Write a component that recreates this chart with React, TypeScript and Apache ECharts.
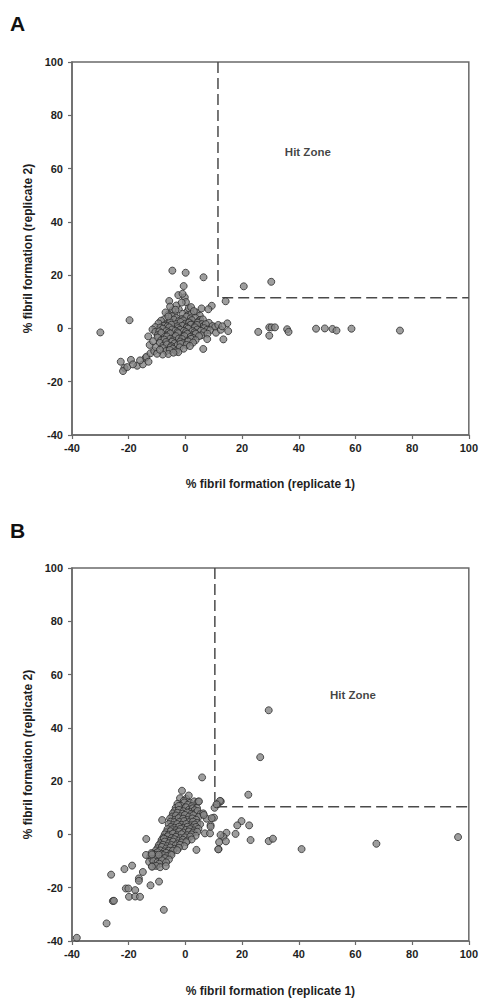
import React, { useEffect, useRef } from "react";
import * as echarts from "echarts";

// ---------- DATA ----------
const axisTicks = [-40, -20, 0, 20, 40, 60, 80, 100];
const xTitle = "% fibril formation (replicate 1)";
const yTitle = "% fibril formation (replicate 2)";
const hitZoneLabel = "Hit Zone";

// Panel A: threshold (both replicates)
const thresholdA = 11.5;
const hitZonePosA = [43.2, 66.2];

const pointsA_outliers = [
  [-30.0, -1.5], [-19.7, 3.1], [-4.6, 21.7], [0.1, 20.9], [6.4, 19.2], [-0.6, 15.9],
  [20.6, 15.8], [30.3, 17.5], [14.2, 10.2], [6.3, -7.7],
  [25.7, -1.3], [29.6, 0.4], [30.4, 0.4], [31.6, 0.4], [29.6, -2.7], [35.9, -0.3],
  [36.4, -1.3], [46.1, -0.1], [49.2, 0.0], [51.9, -0.2], [53.3, -0.8], [58.6, -0.1], [75.7, -0.8],
  [14.8, 1.9], [15.1, -1.0], [13.4, -4.1], [7.7, -4.0], [11.6, 1.3], [10.8, -1.6],
  [9.3, 8.5], [8.1, 7.2], [12.5, -0.5], [13.0, 0.8],
];
const pointsA_tail = [
  [-22.8, -12.5], [-19.2, -11.8], [-21.5, -14.8], [-22.0, -16.0], [-20.5, -14.5], [-17.0, -14.0],
  [-15.0, -13.5], [-14.0, -11.0], [-13.7, -10.6], [-12.3, -9.3], [-11.0, -8.5], [-10.0, -9.5],
  [-10.5, -7.0], [-9.0, -8.0], [-13.0, -12.5], [-16.0, -12.0], [-18.5, -13.5], [-12.6, -6.2],
  [-11.4, -4.8], [-13.1, -3.0],
];
const pointsA_upper = [
  [-5.7, 10.3], [-0.2, 11.7], [0.2, 9.9], [-5.4, 8.2], [-1.3, 9.7], [5.7, 7.5], [-2.5, 12.5],
  [-3.5, 7.0], [2.0, 8.0], [3.0, 6.5], [-7.0, 6.0], [-6.0, 4.5], [-1.0, 13.0],
];
const pointsA_core = [
  [-4.6, 6.8], [-2.3, 7.1], [0.7, 6.4], [1.2, 7.6], [3.8, 6.0], [-3.2, 8.6],
  [-6.0, 5.3], [-3.9, 5.0], [-1.0, 5.5], [0.9, 4.9], [2.1, 5.4], [5.1, 4.8],
  [-7.5, 3.4], [-4.8, 4.6], [-3.2, 3.9], [-1.3, 3.5], [0.4, 4.4], [1.9, 3.8], [3.5, 4.0], [5.2, 3.2],
  [-8.6, 2.9], [-5.7, 2.6], [-4.1, 3.3], [-2.3, 2.7], [-0.8, 3.0], [1.4, 2.4], [2.3, 3.1], [4.6, 2.6], [6.2, 3.4],
  [-9.5, 1.9], [-6.8, 1.5], [-5.4, 2.3], [-3.1, 1.7], [-1.7, 2.4], [-0.2, 1.6], [1.3, 2.2], [2.2, 1.5], [4.3, 2.1], [5.8, 1.6], [8.3, 2.1],
  [-10.6, 0.5], [-7.6, 1.0], [-6.2, 0.9], [-4.9, 1.4], [-2.7, 0.8], [-1.1, 1.0], [0.6, 0.7], [1.9, 1.4], [3.4, 0.8], [4.1, 1.3], [6.5, 0.9], [7.2, 1.6], [9.6, 0.9],
  [-11.6, -0.4], [-8.8, 0.3], [-7.9, -0.1], [-5.7, 0.4], [-4.7, -0.4], [-2.5, 0.1], [-1.9, -0.5], [0.5, 0.3], [1.0, -0.1], [3.4, 0.4], [4.2, -0.4], [6.6, 0.1], [7.7, -0.5], [10.5, 0.5],
  [-10.6, -1.3], [-9.2, -1.1], [-6.7, -1.0], [-5.9, -1.5], [-3.5, -0.9], [-2.8, -1.4], [-0.5, -0.9], [0.2, -1.4], [2.5, -1.0], [3.2, -1.5], [5.5, -0.9], [6.6, -1.4], [8.7, -0.7],
  [-9.7, -2.5], [-8.5, -1.7], [-6.0, -2.4], [-5.3, -1.9], [-3.2, -2.6], [-2.5, -1.8], [0.0, -2.5], [0.7, -2.0], [2.9, -2.4], [3.7, -2.0], [5.6, -2.6], [7.8, -2.0],
  [-9.8, -3.4], [-7.2, -3.1], [-6.5, -3.0], [-4.0, -3.4], [-3.4, -2.9], [-1.0, -3.3], [-0.3, -2.9], [1.9, -3.1], [2.7, -3.6], [4.8, -2.9],
  [-8.6, -4.5], [-7.4, -4.2], [-5.3, -3.9], [-4.4, -4.5], [-2.3, -3.8], [-1.2, -4.0], [0.9, -4.6], [2.0, -3.9], [3.6, -4.4],
  [-9.0, -5.4], [-6.8, -5.1], [-4.7, -5.0], [-3.8, -5.6], [-1.8, -4.9], [-0.9, -5.5], [1.0, -4.9], [2.7, -5.3],
  [-7.8, -6.5], [-6.5, -6.0], [-5.0, -6.6], [-2.7, -6.2], [-1.7, -5.8], [0.4, -6.2], [1.6, -6.6],
  [-7.9, -7.4], [-5.2, -7.1], [-4.4, -7.6], [-2.0, -7.1], [-0.6, -7.6],
  [-6.8, -8.5], [-5.5, -8.1], [-3.3, -8.6], [-2.5, -8.9],
  [-6.0, -9.6], [-4.2, -9.1], [-8.0, -9.8],
];

// Panel B: threshold (both replicates)
const thresholdB = 10.4;
const hitZonePosB = [59.1, 52.3];

const pointsB_outliers = [
  [29.4, 46.6], [26.4, 29.0], [22.2, 14.9], [5.9, 21.4], [12.5, 12.4], [11.4, 11.4], [10.3, 10.0],
  [19.8, 5.0], [18.3, 3.4], [22.5, 3.4], [14.5, 0.6], [17.7, 0.2], [23.0, -2.1], [29.4, -2.5],
  [30.9, -1.6], [41.0, -5.5], [67.4, -3.5], [96.2, -1.0], [11.7, -5.5], [13.4, -0.9], [14.3, -2.6],
  [8.9, 3.5], [7.5, 5.9], [10.1, 6.3], [4.8, 12.4], [6.3, 7.9], [-8.2, 5.4], [-13.8, -1.7],
  [8.7, 0.4], [11.6, -5.6], [12.4, -0.2], [11.9, -2.9], [8.9, 2.9], [12.2, 12.6], [11.0, 11.3],
  [6.5, 7.3], [9.3, 6.1],
];
const pointsB_tail = [
  [-26.2, -15.1], [-21.5, -13.0], [-18.8, -11.7], [-15.0, -14.1], [-16.4, -16.5], [-16.4, -17.4],
  [-12.3, -19.1], [-9.3, -17.7], [-21.0, -20.3], [-20.1, -20.3], [-17.7, -20.9], [-19.9, -23.4],
  [-17.7, -23.3], [-16.0, -23.4], [-25.6, -25.0], [-25.2, -24.9], [-7.6, -28.3], [-27.8, -33.4],
  [-38.3, -38.8], [-13.9, -7.7], [-11.8, -7.5], [-9.4, -7.6], [-11.8, -12.1],
];
const pointsB_core = [
  [-1.2, 16.4], [-1.9, 13.6], [0.3, 13.4], [-0.6, 12.6], [1.2, 14.6],
  [-2.8, 11.5], [-0.4, 12.0], [1.7, 11.9], [3.1, 12.4], [4.5, 12.3],
  [-1.7, 10.8], [0.8, 11.1], [2.3, 10.6],
  [-3.4, 10.0], [-1.2, 9.5], [0.2, 10.2], [1.3, 9.3], [2.6, 9.8], [4.1, 9.9], [-2.4, 10.7],
  [-3.8, 8.8], [-2.3, 9.2], [-0.7, 8.7], [1.7, 8.5], [3.3, 9.1],
  [-4.4, 7.9], [-2.8, 8.1], [-1.0, 7.8], [0.7, 8.2], [2.1, 7.7], [3.6, 8.0], [4.3, 8.8], [5.3, 7.6],
  [-4.7, 6.7], [-3.3, 7.1], [-1.8, 6.8], [-0.2, 7.3], [1.3, 6.7], [2.8, 7.2], [4.7, 6.6],
  [-5.4, 6.0], [-3.7, 5.5], [-2.4, 6.1], [-0.8, 5.9], [0.7, 5.4], [2.5, 6.0], [3.8, 5.5],
  [-5.2, 4.8], [-3.9, 4.6], [-2.1, 4.7], [-0.4, 5.0], [1.2, 4.6], [2.7, 4.8], [4.2, 4.3],
  [-5.9, 3.9], [-4.3, 3.5], [-2.9, 3.9], [-1.3, 3.6], [0.3, 3.9], [2.0, 3.4], [3.3, 3.7], [5.2, 3.8],
  [-5.2, 2.8], [-3.8, 2.5], [-2.2, 2.9], [-0.7, 2.5], [0.8, 2.9], [2.3, 2.6], [3.8, 2.8],
  [-6.3, 2.0], [-4.8, 1.9], [-3.3, 1.6], [-1.7, 2.1], [0.2, 1.7], [1.6, 2.0], [3.1, 1.5], [4.6, 2.1], [6.9, 0.4],
  [-6.8, 0.8], [-5.2, 1.2], [-3.8, 0.7], [-2.2, 1.1], [-0.7, 0.7], [1.2, 1.1], [2.7, 0.7], [4.2, 1.0],
  [-7.3, 0.0], [-5.9, -0.1], [-4.4, 0.3], [-2.9, -0.3], [-1.4, 0.1], [0.6, -0.3], [2.2, 0.0], [3.6, -0.5],
  [-7.8, -1.2], [-6.2, -0.7], [-4.8, -1.3], [-3.3, -0.9], [-1.7, -1.4], [-0.2, -1.1], [1.7, -0.8],
  [-8.4, -2.1], [-6.9, -1.9], [-5.4, -2.4], [-3.9, -1.8], [-2.3, -2.3], [-0.9, -2.0], [0.7, -2.3], [2.2, -1.9], [-7.6, -1.6],
  [-8.8, -3.3], [-7.3, -2.7], [-5.8, -3.3], [-4.3, -2.7], [-2.8, -3.4], [-1.3, -3.0], [0.3, -2.9],
  [-9.4, -4.1], [-7.9, -3.9], [-6.4, -4.4], [-4.9, -4.0], [-3.4, -4.1], [-1.9, -3.9], [-0.4, -4.4], [3.9, -5.8],
  [-9.8, -5.2], [-8.3, -4.7], [-6.8, -5.3], [-5.3, -4.9], [-3.8, -5.4], [-2.3, -5.0],
  [-10.4, -6.0], [-8.9, -6.0], [-7.4, -6.4], [-5.9, -6.1], [-4.4, -6.1], [-2.9, -5.9],
  [-11.3, -7.3], [-9.8, -6.7], [-8.3, -7.3], [-6.8, -6.9], [-5.3, -7.4],
  [-12.4, -8.4], [-10.9, -7.6], [-9.4, -8.3], [-7.9, -7.8], [-6.4, -8.1], [-4.9, -7.7], [-12.0, -7.0],
  [-11.8, -9.3], [-10.3, -9.0], [-8.8, -9.3], [-7.3, -8.9], [-5.8, -9.4],
  [-12.8, -10.3], [-11.3, -10.0], [-9.8, -10.4], [-8.3, -9.7], [-6.8, -10.5], [-9.2, -11.0],
  [-11.7, -12.0], [-10.3, -11.8], [-8.9, -12.3], [-6.9, -11.9],
];

const panelLetters = ["A", "B"];

// ---------- STYLE ----------
const FONT = '"Liberation Sans", Arial, Helvetica, sans-serif';
const TEXT = "#1e1e1e";
const AXIS = "#6a6a6a";

function makeAxis(gridIndex: number, isX: boolean, nameGap: number) {
  return {
    type: "value",
    gridIndex,
    min: axisTicks[0],
    max: axisTicks[axisTicks.length - 1],
    interval: 20,
    name: isX ? xTitle : yTitle,
    nameLocation: "middle",
    nameGap,
    nameTextStyle: { fontFamily: FONT, fontWeight: "bold", fontSize: 12, color: TEXT },
    axisLine: { show: true, onZero: false, lineStyle: { color: AXIS, width: 1.5 } },
    axisTick: { show: true, inside: false, length: 4, lineStyle: { color: AXIS, width: 1.2 } },
    axisLabel: { fontFamily: FONT, fontWeight: "bold", fontSize: 11, color: TEXT, margin: isX ? 7 : 9 },
    splitLine: { show: false },
  };
}

const scatterStyle = {
  symbol: "circle",
  symbolSize: 7,
  itemStyle: { color: "#868686", borderColor: "#2c2c2c", borderWidth: 1 },
};

function thresholdLine(t: number, idx: number) {
  return {
    type: "line",
    xAxisIndex: idx,
    yAxisIndex: idx,
    data: [[t, axisTicks[axisTicks.length - 1]], [t, t], [axisTicks[axisTicks.length - 1], t]],
    symbol: "none",
    silent: true,
    lineStyle: { color: "#4a4a4a", width: 1.5, type: [11, 5] },
    z: 3,
  };
}

function hitLabel(pos: number[], idx: number) {
  return {
    type: "scatter",
    xAxisIndex: idx,
    yAxisIndex: idx,
    data: [pos],
    symbolSize: 2,
    silent: true,
    itemStyle: { color: "rgba(0,0,0,0)", borderWidth: 0 },
    label: {
      show: true,
      position: "inside",
      formatter: hitZoneLabel,
      fontFamily: FONT,
      fontWeight: "bold",
      fontSize: 11.5,
      color: "#111111",
    },
    z: 6,
  };
}

export default function App() {
  const ref = useRef<HTMLDivElement>(null);
  useEffect(() => {
    if (!ref.current) return;
    const chart = echarts.init(ref.current, null, { renderer: "svg" });
    chart.setOption({
      animation: false,
      backgroundColor: "#ffffff",
      textStyle: { fontFamily: FONT },
      grid: [
        { left: 72, top: 62, width: 397, height: 373, show: true, borderColor: AXIS, borderWidth: 1.5, containLabel: false },
        { left: 72, top: 568, width: 397, height: 373, show: true, borderColor: AXIS, borderWidth: 1.5, containLabel: false },
      ],
      xAxis: [makeAxis(0, true, 43), makeAxis(1, true, 44)],
      yAxis: [makeAxis(0, false, 37), makeAxis(1, false, 37)],
      graphic: [
        { type: "text", left: 10, top: 13, style: { text: panelLetters[0], fontFamily: FONT, fontWeight: "bold", fontSize: 21, fill: "#111" } },
        { type: "text", left: 10, top: 520, style: { text: panelLetters[1], fontFamily: FONT, fontWeight: "bold", fontSize: 21, fill: "#111" } },
      ],
      series: [
        thresholdLine(thresholdA, 0),
        { type: "scatter", xAxisIndex: 0, yAxisIndex: 0, data: [...pointsA_core, ...pointsA_upper, ...pointsA_tail, ...pointsA_outliers], ...scatterStyle, z: 4 },
        hitLabel(hitZonePosA, 0),
        thresholdLine(thresholdB, 1),
        { type: "scatter", xAxisIndex: 1, yAxisIndex: 1, data: [...pointsB_core, ...pointsB_tail, ...pointsB_outliers], ...scatterStyle, z: 4 },
        hitLabel(hitZonePosB, 1),
      ],
    });
    return () => chart.dispose();
  }, []);
  return (
    <div
      ref={ref}
      style={{ position: "absolute", left: 0, top: 0, width: 481, height: 998, background: "#fff" }}
    />
  );
}
